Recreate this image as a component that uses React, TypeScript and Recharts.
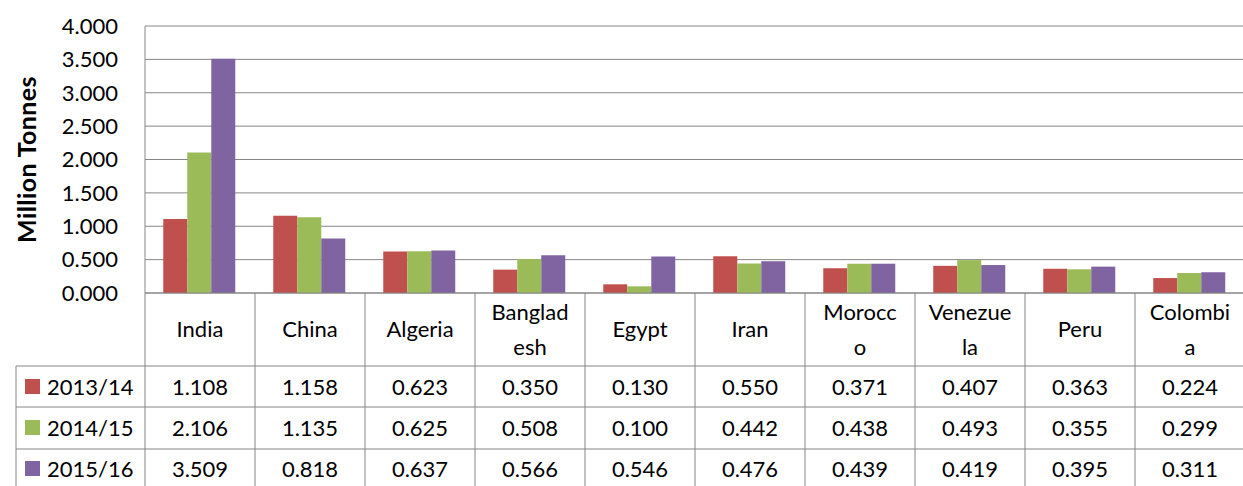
import React from 'react'
import { BarChart, Bar, XAxis, YAxis, CartesianGrid } from 'recharts'

const categories = ['India', 'China', 'Algeria', 'Bangladesh', 'Egypt', 'Iran', 'Morocco', 'Venezuela', 'Peru', 'Colombia']
// how the data table wraps the names in its header cells
const headerLines = [['India'], ['China'], ['Algeria'], ['Banglad', 'esh'], ['Egypt'], ['Iran'], ['Morocc', 'o'], ['Venezue', 'la'], ['Peru'], ['Colombi', 'a']]

const seriesNames = ['2013/14', '2014/15', '2015/16']
const values1314 = [1.108, 1.158, 0.623, 0.35, 0.13, 0.55, 0.371, 0.407, 0.363, 0.224]
const values1415 = [2.106, 1.135, 0.625, 0.508, 0.1, 0.442, 0.438, 0.493, 0.355, 0.299]
const values1516 = [3.509, 0.818, 0.637, 0.566, 0.546, 0.476, 0.439, 0.419, 0.395, 0.311]
const yTicks = [0, 0.5, 1, 1.5, 2, 2.5, 3, 3.5, 4]

const COLORS = ['#C0504D', '#9BBB59', '#8064A2']
const GRID = '#868686'
const FONT = 'Lato, "Open Sans", sans-serif'

const CHART_W = 1246
const CHART_H = 486
const Y_AXIS_W = 145
const MARGIN = { top: 26, right: 1, left: 0, bottom: 0 }
const X_AXIS_H = 193
const PLOT_W = CHART_W - MARGIN.left - MARGIN.right - Y_AXIS_W

const allSeries = [values1314, values1415, values1516]

const chartData = categories.map((name, i) => ({
  name,
  s0: values1314[i],
  s1: values1415[i],
  s2: values1516[i],
}))

// row offsets below the plot bottom
const HEADER_H = 73
const ROW_BOTTOMS = [114, 156]
const ROW_CENTERS = [93, 134, 175]

function TableTick(props: any) {
  const { x, y, index } = props
  const bw = PLOT_W / categories.length
  const left = x - bw / 2
  const right = x + bw / 2
  const lines = headerLines[index]
  const isLast = index === categories.length - 1
  const textStyle = { fontFamily: FONT, fontSize: 22, fill: '#000' }

  return (
    <g>
      <line x1={left} y1={y} x2={left} y2={CHART_H} stroke={GRID} />
      {isLast && <line x1={right} y1={y} x2={right} y2={CHART_H} stroke={GRID} />}
      <line x1={left} y1={y + HEADER_H} x2={right} y2={y + HEADER_H} stroke={GRID} />
      {ROW_BOTTOMS.map(b => (
        <line key={b} x1={left} y1={y + b} x2={right} y2={y + b} stroke={GRID} />
      ))}

      {lines.length === 1 ? (
        <text x={x} y={y + 35} textAnchor="middle" dominantBaseline="central" style={textStyle}>{lines[0]}</text>
      ) : (
        lines.map((l, k) => (
          <text key={k} x={x} y={y + 18 + k * 35} textAnchor="middle" dominantBaseline="central" style={textStyle}>{l}</text>
        ))
      )}

      {allSeries.map((vals, r) => (
        <text key={r} x={x} y={y + ROW_CENTERS[r]} textAnchor="middle" dominantBaseline="central" style={textStyle}>
          {vals[index].toFixed(3)}
        </text>
      ))}

      {/* legend column, drawn once next to the first category */}
      {index === 0 && (
        <g>
          <line x1={16} y1={y + HEADER_H} x2={16} y2={CHART_H} stroke={GRID} />
          <line x1={16} y1={y + HEADER_H} x2={left} y2={y + HEADER_H} stroke={GRID} />
          {ROW_BOTTOMS.map(b => (
            <line key={b} x1={16} y1={y + b} x2={left} y2={y + b} stroke={GRID} />
          ))}
          {seriesNames.map((s, r) => (
            <g key={s}>
              <rect x={25} y={y + ROW_CENTERS[r] - 7} width={15} height={15} fill={COLORS[r]} />
              <text x={47} y={y + ROW_CENTERS[r]} dominantBaseline="central" style={textStyle}>{s}</text>
            </g>
          ))}
        </g>
      )}
    </g>
  )
}

function YLabel(props: any) {
  const vb = props.viewBox || { y: 26, height: 267 }
  const cy = vb.y + vb.height / 2
  return (
    <text
      x={26}
      y={cy}
      transform={`rotate(-90 26 ${cy})`}
      textAnchor="middle"
      dominantBaseline="central"
      style={{ fontFamily: FONT, fontSize: 25, fontWeight: 700, letterSpacing: 0.4, fill: '#000' }}
    >
      Million Tonnes
    </text>
  )
}

export default function App() {
  return (
    <div style={{ position: 'absolute', left: 0, top: 0, width: 1243, height: 486, overflow: 'hidden', background: '#fff' }}>
      <BarChart
        width={CHART_W}
        height={CHART_H}
        data={chartData}
        margin={MARGIN}
        barGap={0}
        barCategoryGap="16.6%"
      >
        <CartesianGrid horizontal vertical={false} stroke={GRID} />
        <XAxis
          dataKey="name"
          height={X_AXIS_H}
          interval={0}
          tickLine={false}
          tickSize={0}
          tickMargin={0}
          axisLine={{ stroke: GRID }}
          tick={<TableTick />}
        />
        <YAxis
          width={Y_AXIS_W}
          domain={[0, 4]}
          ticks={yTicks}
          interval={0}
          tickLine={false}
          tickSize={0}
          tickMargin={27}
          axisLine={{ stroke: GRID }}
          tickFormatter={(v: number) => v.toFixed(3)}
          tick={{ fontFamily: FONT, fontSize: 22, fill: '#000' }}
          label={<YLabel />}
        />
        {seriesNames.map((s, i) => (
          <Bar key={s} dataKey={`s${i}`} name={s} fill={COLORS[i]} isAnimationActive={false} />
        ))}
      </BarChart>
    </div>
  )
}
